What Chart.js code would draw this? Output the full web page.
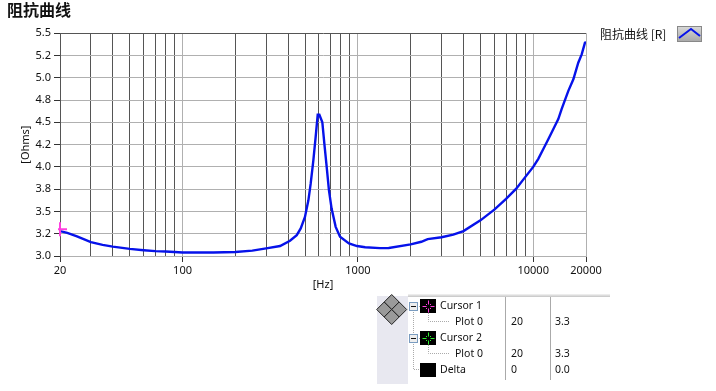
<!DOCTYPE html>
<html><head><meta charset="utf-8">
<style>
html,body{margin:0;padding:0;background:#fff;overflow:hidden}
#wrap{position:relative;width:716px;height:391px}
canvas{position:absolute;left:0;top:0}
.t{position:absolute;white-space:nowrap;font:11px "Noto Sans",sans-serif;color:#111;line-height:14px}
#legendText{left:600px;top:26px;font:12px "Noto Sans CJK SC","Noto Sans",sans-serif;line-height:15px}
svg{position:absolute;left:0;top:0}
</style></head><body>
<div id="wrap">
<canvas id="c" width="716" height="391"></canvas>
<div class="t" id="legendText"></div>
<svg id="panel" width="716" height="391" xmlns="http://www.w3.org/2000/svg"></svg>
</div>
<script src="https://cdn.jsdelivr.net/npm/chart.js@4/dist/chart.umd.min.js"></script>
<script>
const chartTitle = "阻抗曲线";
const legendLabel = "阻抗曲线 [R]";
const xAxisTitle = "[Hz]";
const yAxisTitle = "[Ohms]";
const frequencies = [20,22,25,30,35,40,50,60,70,80,90,100,150,200,250,300,360,410,448,472,499,522,538,557,574,590,603,627,644,664,684,708,747,791,889,989,1100,1337,1500,2000,2300,2500,3000,3500,4000,5000,6000,7000,8000,9000,10000,10690,11420,12190,13030,13900,14520,15860,16940,18070,18900,19720,20000];
const impedance  = [3.28,3.26,3.22,3.155,3.125,3.105,3.08,3.065,3.055,3.05,3.045,3.04,3.04,3.045,3.06,3.085,3.112,3.171,3.234,3.309,3.439,3.625,3.811,4.071,4.332,4.585,4.585,4.5,4.258,3.997,3.737,3.532,3.327,3.215,3.142,3.112,3.098,3.088,3.09,3.13,3.16,3.19,3.21,3.24,3.28,3.40,3.52,3.64,3.755,3.885,4.0,4.09,4.2,4.31,4.425,4.537,4.648,4.853,4.983,5.169,5.262,5.392,5.40];
const cursorX = [20];
const cursorY = [3.3];
const xTickValues = [20,30,40,50,60,70,80,90,100,200,300,400,500,600,700,800,900,1000,2000,3000,4000,5000,6000,7000,8000,9000,10000,20000];
const xLabeled = [20,100,1000,10000,20000];
const yTickValues = [5.5,5.25,5,4.75,4.5,4.25,4,3.75,3.5,3.25,3];
const yTickLabels = ["5.5","5.2","5.0","4.8","4.5","4.2","4.0","3.8","3.5","3.2","3.0"];
const cursorNames = ["Cursor 1","Plot 0","Cursor 2","Plot 0","Delta"];
const cursorColA = ["","20","","20","0"];
const cursorColB = ["","3.3","","3.3","0.0"];

const DARK="#555555", LIGHT="#b0b0b0";
const font={family:'"Noto Sans",sans-serif',size:11};
new Chart(document.getElementById('c'),{
  type:'line',
  data:{datasets:[
    {label:'Cursor 1',data:cursorX.map((x,i)=>({x,y:cursorY[i]})),showLine:false,pointStyle:'cross',pointRadius:7,pointBorderWidth:2,pointBorderColor:'#ff40e0',clip:{left:2,right:0,top:0,bottom:0},order:0},
    {label:legendLabel,data:frequencies.map((x,i)=>({x,y:impedance[i]})),borderColor:'#0612ea',borderWidth:2.4,pointRadius:0,tension:0,order:1}
  ]},
  options:{
    responsive:false,animation:false,
    layout:{padding:{left:7,right:130,top:0,bottom:100}},
    plugins:{
      legend:{display:false},tooltip:{enabled:false},
      title:{display:true,text:chartTitle,align:'start',color:'#111',
        font:{family:'"Noto Sans CJK SC",sans-serif',size:16,weight:'bold'},padding:{top:0,bottom:14}}
    },
    scales:{
      x:{type:'logarithmic',min:20,max:20000,
        afterBuildTicks:s=>{s.ticks=xTickValues.map(v=>({value:v}));},
        afterFit:s=>{s.height=35;},
        ticks:{autoSkip:false,maxRotation:0,color:'#111',font,padding:2,
          callback:v=>xLabeled.includes(v)?String(v):''},
        grid:{drawTicks:true,tickLength:6,lineWidth:1,
          color:c=>(xLabeled.includes(c.tick.value)?LIGHT:DARK),
          tickColor:c=>(xLabeled.includes(c.tick.value)?'#333':'rgba(0,0,0,0)')},
        border:{color:LIGHT,width:1},
        title:{display:true,text:xAxisTitle,color:'#111',font,padding:{top:2,bottom:0},align:'center'}
      },
      y:{type:'linear',min:3,max:5.5,
        afterBuildTicks:s=>{s.ticks=yTickValues.map(v=>({value:v}));},
        afterFit:s=>{s.width=53;},
        ticks:{autoSkip:false,color:'#111',font,padding:3,
          callback:v=>yTickLabels[yTickValues.indexOf(v)]},
        grid:{tickLength:6,lineWidth:1,tickColor:'#333',
          color:c=>(c.tick.value===5.5?DARK:LIGHT)},
        border:{color:DARK,width:1},
        title:{display:true,text:yAxisTitle,color:'#111',font,padding:{top:12,bottom:0}}
      }
    }
  }
});

document.getElementById('legendText').textContent=legendLabel;

const NS="http://www.w3.org/2000/svg";
const svg=document.getElementById('panel');
function el(n,a,txt){const e=document.createElementNS(NS,n);for(const k in a)e.setAttribute(k,a[k]);if(txt!==undefined)e.textContent=txt;svg.appendChild(e);return e;}
const txtFont='"Noto Sans",sans-serif';
const g0=el('linearGradient',{id:'sw',x1:0,y1:0,x2:0,y2:1});
[['0','#d8d8d8'],['1','#a8a8a8']].forEach(s=>{const st=document.createElementNS(NS,'stop');st.setAttribute('offset',s[0]);st.setAttribute('stop-color',s[1]);g0.appendChild(st);});
el('rect',{x:677.5,y:26.5,width:24,height:15,fill:'url(#sw)',stroke:'#888'});
el('polyline',{points:'679,38 691,29 700,36',fill:'none',stroke:'#0612ea','stroke-width':2});
el('rect',{x:377,y:296,width:31,height:88,fill:'#e8e8f0'});
const g1=el('linearGradient',{id:'topb',x1:0,y1:0,x2:0,y2:1});
[['0','#f4f4f4'],['1','#c4c4c4']].forEach(s=>{const st=document.createElementNS(NS,'stop');st.setAttribute('offset',s[0]);st.setAttribute('stop-color',s[1]);g1.appendChild(st);});
el('rect',{x:408,y:294,width:202,height:3,fill:'url(#topb)'});
el('line',{x1:505.5,y1:297,x2:505.5,y2:380,stroke:'#aaa'});
el('line',{x1:550.5,y1:297,x2:550.5,y2:380,stroke:'#aaa'});
const dcx=391.7,dcy=309.5,dh=7.5;
[[0,-dh],[-dh,0],[dh,0],[0,dh]].forEach(o=>{
  const px=dcx+o[0],py=dcy+o[1];
  el('polygon',{points:`${px},${py-dh} ${px+dh},${py} ${px},${py+dh} ${px-dh},${py}`,fill:'#9a9a9a',stroke:'#222','stroke-width':1});
});
const rowY=[305,321,337,353,369];
const dot={stroke:'#aaa','stroke-dasharray':'1 1',fill:'none'};
el('polyline',Object.assign({points:'413.5,310 413.5,369.5 420,369.5'},dot));
el('polyline',Object.assign({points:'428.5,313 428.5,321.5 450,321.5'},dot));
el('polyline',Object.assign({points:'428.5,345 428.5,353.5 450,353.5'},dot));
el('line',Object.assign({x1:417,y1:306.5,x2:420,y2:306.5},dot));
el('line',Object.assign({x1:417,y1:338.5,x2:420,y2:338.5},dot));
const icons={0:'#ff40e0',2:'#30f030',4:null};
rowY.forEach((y,i)=>{
  const isCursor=i===0||i===2, isDelta=i===4;
  const tx=(isCursor||isDelta)?440:455;
  el('text',{x:tx,y:y+4,'font-family':txtFont,'font-size':10.5,fill:'#111'},cursorNames[i]);
  if(cursorColA[i]) el('text',{x:511,y:y+4,'font-family':txtFont,'font-size':10.5,fill:'#111'},cursorColA[i]);
  if(cursorColB[i]) el('text',{x:555,y:y+4,'font-family':txtFont,'font-size':10.5,fill:'#111'},cursorColB[i]);
  if(isCursor||isDelta){
    el('rect',{x:420,y:y-6,width:16,height:14,fill:'#000'});
    const col=icons[i];
    if(col){
      const cx=428,cy=y+1;
      [[-6,0,-2,0],[2,0,6,0],[0,-6,0,-2],[0,2,0,6]].forEach(a=>el('line',{x1:cx+a[0]+.5,y1:cy+a[1]+.5,x2:cx+a[2]+.5,y2:cy+a[3]+.5,stroke:col}));
      [[-2,-2],[2,-2],[-2,2],[2,2]].forEach(a=>el('rect',{x:cx+a[0],y:cy+a[1],width:1,height:1,fill:col}));
    }
  }
  if(isCursor){
    el('rect',{x:409.5,y:y-2.5,width:8,height:8,fill:'#eee',stroke:'#7a9cc0'});
    el('line',{x1:411,y1:y+1.5,x2:416,y2:y+1.5,stroke:'#111'});
  }
});
</script>
</body></html>
